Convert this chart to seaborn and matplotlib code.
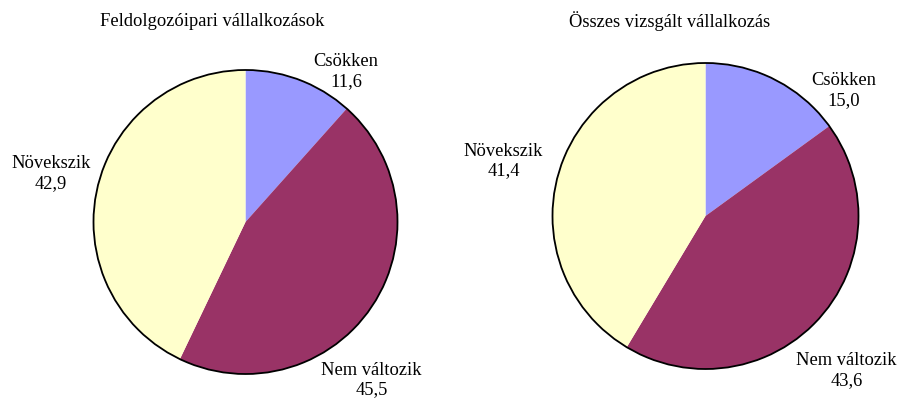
import matplotlib
matplotlib.use('Agg')
import matplotlib.pyplot as plt
import seaborn as sns

# Data
categories = ['Csökken', 'Nem változik', 'Növekszik']
feldolgozo_values = [11.6, 45.5, 42.9]
osszes_values = [15.0, 43.6, 41.4]
titles = ['Feldolgozóipari vállalkozások', 'Összes vizsgált vállalkozás']
colors = ['#9999FF', '#993366', '#FFFFCC']

# label centres in pie units (radius = 1)
left_label_pos = [(0.66, 0.99), (0.83, -1.04), (-1.28, 0.32)]
right_label_pos = [(0.905, 0.82), (0.92, -1.01), (-1.32, 0.36)]

sns.set_theme(style='white')
plt.rcParams['font.family'] = ['Liberation Serif', 'DejaVu Serif']

W, H = 901, 401
fig = plt.figure(figsize=(W / 100, H / 100), dpi=100)
fig.patch.set_facecolor('white')

lim = 1.6


def draw_pie(cx, cy, r, values, label_pos, title, title_x):
    size = 2 * lim * r
    ax = fig.add_axes([(cx - size / 2) / W, (H - cy - size / 2) / H, size / W, size / H])
    ax.pie(values, colors=colors, startangle=90, counterclock=False,
           radius=1, wedgeprops=dict(linewidth=0))
    # outer outline
    ax.pie([1], colors=['none'], radius=1,
           wedgeprops=dict(edgecolor='black', linewidth=1.3, fill=False))
    ax.set_xlim(-lim, lim)
    ax.set_ylim(-lim, lim)
    ax.set_aspect('equal')
    ax.axis('off')
    for cat, val, (x, y) in zip(categories, values, label_pos):
        ax.text(x, y, f'{cat}\n{val:.1f}'.replace('.', ','), ha='center', va='center',
                fontsize=13.3, linespacing=1.2, color='black')
    fig.text(title_x / W, 1 - 21 / H, title, ha='center', va='center', fontsize=13.3,
             color='black')


draw_pie(245.5, 222, 152, feldolgozo_values, left_label_pos, titles[0], 212)
draw_pie(705.5, 216, 153, osszes_values, right_label_pos, titles[1], 670)

fig.savefig('out.png', dpi=100, facecolor='white')
